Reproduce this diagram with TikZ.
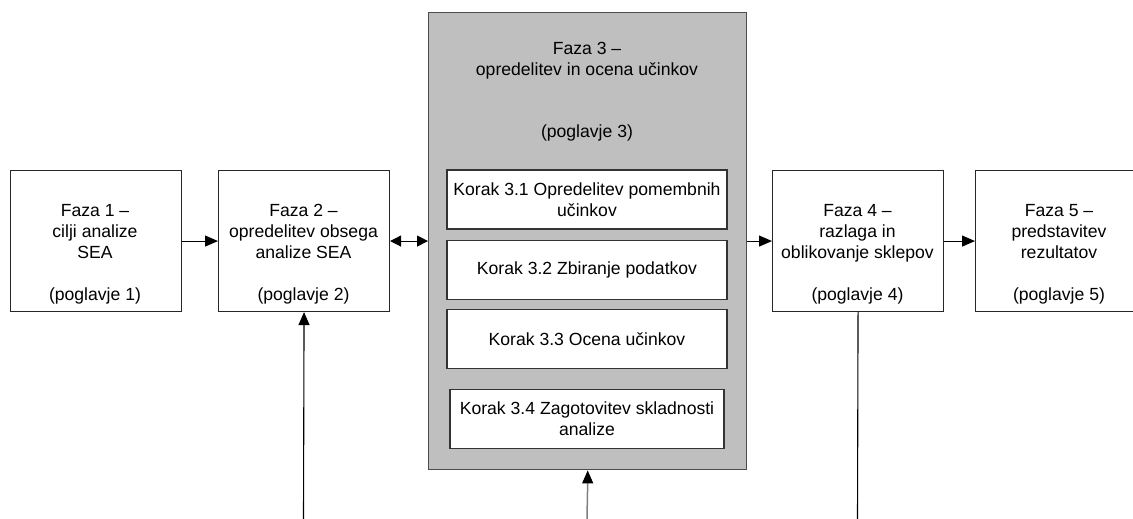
\documentclass[tikz,border=0pt]{standalone}
\usepackage{fontspec}
\setmainfont{Liberation Sans}
\usetikzlibrary{arrows.meta}
\begin{document}
\begin{tikzpicture}[x=1pt,y=-1pt,
  every node/.style={font=\fontsize{17.6}{21}\selectfont},
  phasebox/.style={draw=black!85, line width=1.1pt, fill=white, minimum width=171pt,
    minimum height=141pt, inner sep=0pt, anchor=north west},
  phasetext/.style={align=center, inner sep=0pt, anchor=north},
  bigbox/.style={draw=black!70, line width=1.4pt, fill=black!25, minimum width=318pt,
    minimum height=457pt, inner sep=0pt, anchor=north west},
  stepbox/.style={draw=black!80, line width=1.1pt, fill=white, minimum width=280pt,
    minimum height=59pt, inner sep=0pt, align=center},
  link/.style={line width=1.1pt, draw=black},
  tip/.style={-{Triangle[length=13pt,width=11pt]}},
  bothtips/.style={{Triangle[length=11pt,width=11pt]}-{Triangle[length=11pt,width=11pt]}}
]
\useasboundingbox (0,0) rectangle (1133,519);

% phase boxes
\node[phasebox] (f1) at (9.5,170) {};
\node[phasebox] (f2) at (218,170) {};
\node[bigbox]   (f3) at (428,12) {};
\node[phasebox] (f4) at (772,170) {};
\node[phasebox] (f5) at (975,170) {};

% phase texts
\node[phasetext] (t1) at (95,204) {Faza 1 --\\cilji analize\\SEA\\[21pt](poglavje 1)};
\node[phasetext] (t2) at (303.5,204) {Faza 2 --\\opredelitev obsega\\analize SEA\\[21pt](poglavje 2)};
\node[phasetext] (t4) at (857.5,204) {Faza 4 --\\razlaga in\\oblikovanje sklepov\\[21pt](poglavje 4)};
\node[phasetext] (t5) at (1059,204) {Faza 5 --\\predstavitev\\rezultatov\\[21pt](poglavje 5)};

% phase 3 with its steps
\node[phasetext] (t3) at (587,42.5) {Faza 3 --\\opredelitev in ocena učinkov};
\node[inner sep=0pt, anchor=base] (t3p) at (587,137) {(poglavje 3)};
\node[stepbox] (k1) at (587,199.5) {Korak 3.1 Opredelitev pomembnih\\učinkov};
\node[stepbox] (k2) at (587,270) {Korak 3.2 Zbiranje podatkov};
\node[stepbox] (k3) at (587,339) {Korak 3.3 Ocena učinkov};
\node[stepbox, minimum width=274pt] (k4) at (587,419) {Korak 3.4 Zagotovitev skladnosti\\analize};

% incoming lines from below
\coordinate (b2) at (303.5,519);
\coordinate (b3) at (587,519);
\coordinate (b4) at (857.5,519);

% connectors
\draw[link, tip] (f1.east) -- (f2.west);
\draw[link, bothtips] (f2.east) -- (f2.east -| f3.west);
\draw[link, tip] (f4.west -| f3.east) -- (f4.west);
\draw[link, tip] (f4.east) -- (f5.west);
\draw[link, tip] (b2) -- (f2.south);
\draw[line width=1.5pt, draw=black!50] (b3) -- ([yshift=-11pt]f3.south);
\draw[link, tip] ([yshift=-12pt]f3.south) -- (f3.south);
\draw[link] (f4.south) -- (b4);
\end{tikzpicture}
\end{document}
